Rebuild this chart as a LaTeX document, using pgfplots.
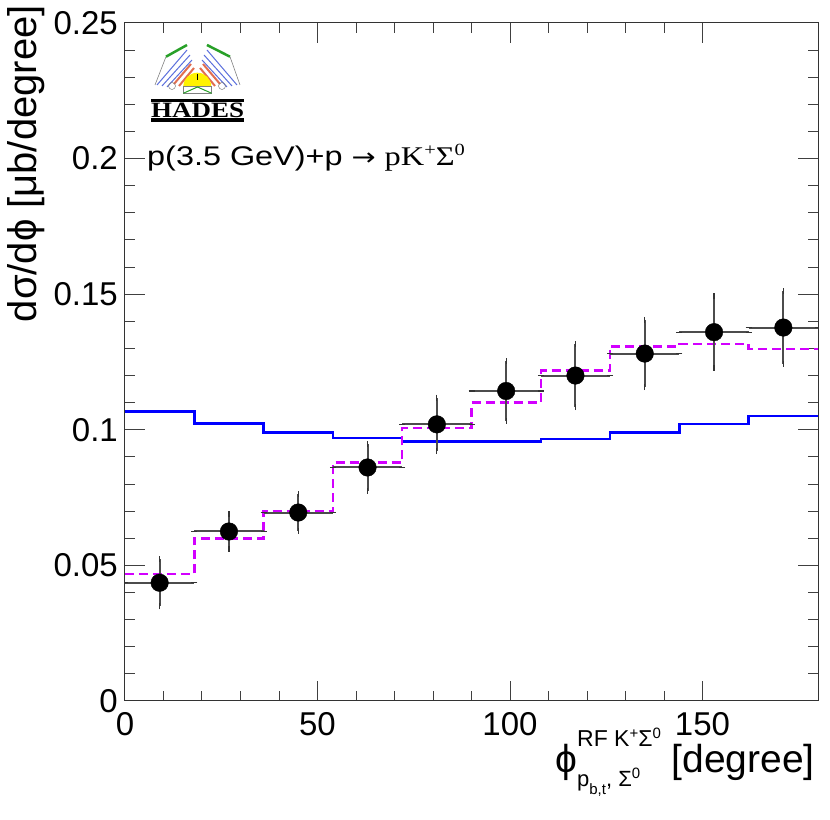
\documentclass[border=0pt]{standalone}
\usepackage{fontspec}
\setmainfont{Liberation Sans}
\newfontfamily\serif{Liberation Serif}
\newfontfamily\djv{DejaVu Sans}
\usepackage{amsmath}
\usepackage{graphicx}
\usepackage{pgfplots}
\pgfplotsset{compat=1.18}
\newcommand\fs[1]{\fontsize{#1}{#1}\selectfont}
\definecolor{hmag}{RGB}{210,0,255}
\definecolor{hgreen}{RGB}{40,160,40}
\definecolor{hred}{RGB}{225,110,80}
\definecolor{hblue}{RGB}{90,110,220}

\pgfplotstableread{
x   y      ex  ey
9   0.0436 9   0.0087
27  0.0625 9   0.0064
45  0.0695 9   0.0068
63  0.0861 9   0.0085
81  0.1020 9   0.0099
99  0.1143 9   0.0110
117 0.1200 9   0.0116
135 0.1281 9   0.0124
153 0.1360 9   0.0132
171 0.1377 9   0.0133
}\datatab

\begin{document}
\begin{tikzpicture}
\begin{axis}[
  name=ax,
  scale only axis, width=693pt, height=678pt,
  xmin=0, xmax=180, ymin=0, ymax=0.25,
  xtick={0,50,100,150},
  ytick={0,0.05,0.1,0.15,0.2,0.25},
  minor x tick num=4, minor y tick num=4,
  tick align=inside,
  major tick length=20pt, minor tick length=10pt,
  every tick/.style={black!75, line width=1pt},
  axis line style={black!80, line width=1pt},
  scaled y ticks=false,
  yticklabel style={/pgf/number format/fixed, /pgf/number format/precision=2},
  /pgf/number format/assume math mode=true,
  ticklabel style={font=\fs{33}, inner sep=0pt},
  xticklabel style={anchor=north, yshift=-11pt},
  yticklabel style={anchor=east, xshift=-7pt},
  xlabel={\fs{39}ϕ\rlap{\raisebox{-14pt}{\fs{22}p\raisebox{-8pt}{\fs{15}b,t}, Σ\raisebox{8pt}{\fs{15}0}}}\raisebox{26pt}{\fs{23}RF K\raisebox{8pt}{\fs{15}+}Σ\raisebox{8pt}{\fs{15}0}}\fs{39} [degree]},
  xlabel style={at={(rel axis cs:0.9957,-0.1062)}, anchor=base east, inner sep=0pt},
  ylabel={\fs{40}dσ/dϕ [μb/degree]},
  ylabel style={at={(rel axis cs:-0.1154,1.0265)}, anchor=south east, inner sep=0pt},
]
\addplot[const plot, draw=blue, line width=2.5pt] coordinates {
 (0,0.1067) (18,0.1024) (36,0.0990) (54,0.0969) (72,0.0957) (90,0.0957)
 (108,0.0966) (126,0.0990) (144,0.1021) (162,0.1051) (180,0.1051)};
\addplot[const plot, draw=hmag, line width=2.5pt, dash pattern=on 9pt off 5pt] coordinates {
 (0,0.0468) (18,0.0600) (36,0.0698) (54,0.0879) (72,0.1007) (90,0.1100)
 (108,0.1218) (126,0.1307) (144,0.1316) (162,0.1298) (180,0.1298)};
\addplot[only marks, mark=*, mark size=8.8pt, black,
  error bars/.cd, x dir=both, x explicit, y dir=both, y explicit,
  error bar style={line width=2pt, black!70},
  error mark options={black!80, mark size=3pt, line width=1.2pt}]
  table[x=x, y=y, x error=ex, y error=ey] {\datatab};
\end{axis}

\begin{scope}[shift={(ax.north west)}, x=1pt, y=-1pt, shift={(-125,-23)}]
  % HADES logo (approximate)
  \draw[gray, line width=0.6pt] (166,56.7)--(155,85) (230,56.7)--(240,85);
  \draw[hgreen, line width=2.5pt] (166,56.7)--(187,45) (207,45)--(230,56.7);
  \draw[hblue, line width=1pt] (187,50)--(157,85) (190,55)--(162,86) (192,60)--(167,87);
  \draw[hblue, line width=1pt] (207,50)--(237,85) (204,55)--(232,86) (202,60)--(227,87);
  \draw[hred, line width=2pt] (191,64)--(174,84) (194,68)--(179,86);
  \draw[hred, line width=2pt] (203,64)--(220,84) (200,68)--(215,86);
  \draw[gray, line width=0.5pt] (172,86) circle (3.5) (222,86) circle (3.5);
  \fill[yellow] (183.3,86.7) arc (180:0:14 and -14) -- cycle;
  \draw[gray, line width=0.5pt] (183.3,86.7) rectangle (211.7,93.3);
  \draw[hgreen, line width=1pt] (183.3,93.3)--(197.5,87)--(211.7,93.3);
  \draw[black, line width=0.8pt] (197.5,74)--(197.5,80);
  \fill[black] (151,99) rectangle (244,102);
  \fill[black] (151,118.3) rectangle (244,122.5);
  \node[inner sep=0pt, anchor=base west] at (151,117.3) {\resizebox{93pt}{14.5pt}{\serif\bfseries HADES}};
  % reaction text
  \node[inner sep=0pt, anchor=base west] at (147,166) {\scalebox{1.2}[1]{\fs{27}p(3.5 GeV)+p {\djv\fs{24}→} {\serif pK\raisebox{10pt}{\fs{17}+}Σ\raisebox{10pt}{\fs{17}0}}}};
\end{scope}

\pgfresetboundingbox
\path[use as bounding box] ([shift={(-125pt,-119pt)}]ax.south west) rectangle ([shift={(12pt,23pt)}]ax.north east);
\end{tikzpicture}
\end{document}
